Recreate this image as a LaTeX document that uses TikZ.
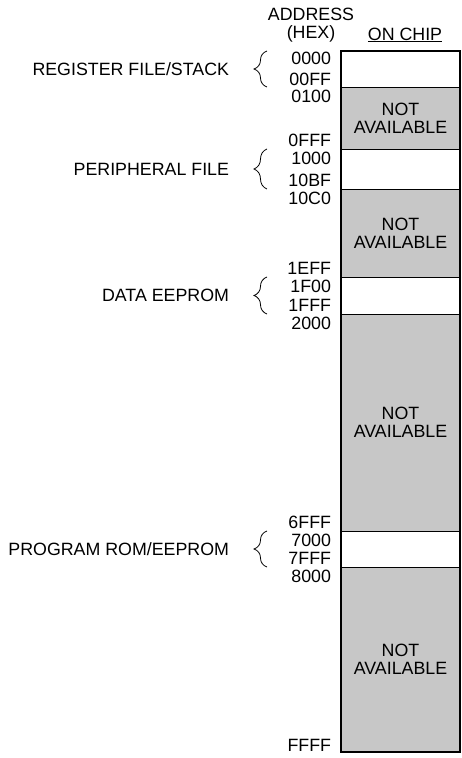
\documentclass[tikz,border=0pt]{standalone}
\usepackage{fontspec}
\setmainfont{Liberation Sans}
\usetikzlibrary{positioning,decorations.pathreplacing,calc}

\begin{document}
\begin{tikzpicture}[
  x=1pt, y=1pt,
  every node/.style={font=\fontsize{17.8}{18}\selectfont, inner sep=0pt, outer sep=0pt},
  seg/.style={rectangle, draw, line width=0.9pt, minimum width=119pt},
  onchip/.style={seg},
  nav/.style={seg, fill=black!22, align=center},
  addr/.style={anchor=east},
  blbl/.style={anchor=east},
  brc/.style={decorate, decoration={brace, amplitude=13pt}, line width=0.8pt},
]
  \useasboundingbox (0,0) rectangle (462,758);

  % Header
  \node[align=center] (addrhd) at (311,733) {ADDRESS\\(HEX)};
  \node (chiphd) at (405,723) {\underline{ON CHIP}};

  % Memory segments
  \node[onchip, minimum height=36pt] (reg) at (400.5,689) {};
  \node[nav, below=0pt of reg, minimum height=62pt] (na1) {NOT\\AVAILABLE};
  \node[onchip, below=0pt of na1, minimum height=40pt] (per) {};
  \node[nav, below=0pt of per, minimum height=88pt] (na2) {NOT\\AVAILABLE};
  \node[onchip, below=0pt of na2, minimum height=37pt] (dat) {};
  \node[nav, below=0pt of dat, minimum height=217pt] (na3) {NOT\\AVAILABLE};
  \node[onchip, below=0pt of na3, minimum height=36pt] (prog) {};
  \node[nav, below=0pt of prog, minimum height=185pt] (na4) {NOT\\AVAILABLE};
  \draw[line width=1.3pt] (reg.north west) rectangle (na4.south east);

  % Addresses
  \node[addr] (a0000) at ([shift={(-10,-7)}]reg.north west) {0000};
  \node[addr] (a00FF) at ([shift={(-10,8)}]reg.south west) {00FF};
  \node[addr] (a0100) at ([shift={(-10,-9.5)}]na1.north west) {0100};
  \node[addr] (a0FFF) at ([shift={(-10,8.5)}]na1.south west) {0FFF};
  \node[addr] (a1000) at ([shift={(-10,-9.5)}]per.north west) {1000};
  \node[addr] (a10BF) at ([shift={(-10,8.5)}]per.south west) {10BF};
  \node[addr] (a10C0) at ([shift={(-10,-9.5)}]na2.north west) {10C0};
  \node[addr] (a1EFF) at ([shift={(-10,8.5)}]na2.south west) {1EFF};
  \node[addr] (a1F00) at ([shift={(-10,-9.5)}]dat.north west) {1F00};
  \node[addr] (a1FFF) at ([shift={(-10,8.5)}]dat.south west) {1FFF};
  \node[addr] (a2000) at ([shift={(-10,-9.5)}]na3.north west) {2000};
  \node[addr] (a6FFF) at ([shift={(-10,8.5)}]na3.south west) {6FFF};
  \node[addr] (a7000) at ([shift={(-10,-9.5)}]prog.north west) {7000};
  \node[addr] (a7FFF) at ([shift={(-10,8.5)}]prog.south west) {7FFF};
  \node[addr] (a8000) at ([shift={(-10,-9.5)}]na4.north west) {8000};
  \node[addr] (aFFFF) at ([shift={(-10,7)}]na4.south west) {FFFF};

  % Braces and their labels
  \draw[brc] ([xshift=-74pt]reg.south west) -- ([xshift=-74pt]reg.north west);
  \draw[brc] ([xshift=-74pt]per.south west) -- ([xshift=-74pt]per.north west);
  \draw[brc] ([xshift=-74pt]dat.south west) -- ([xshift=-74pt]dat.north west);
  \draw[brc] ([xshift=-74pt]prog.south west) -- ([xshift=-74pt]prog.north west);
  \node[blbl] (lreg) at ([xshift=-112pt]reg.west) {REGISTER FILE/STACK};
  \node[blbl] (lper) at ([xshift=-112pt]per.west) {PERIPHERAL FILE};
  \node[blbl] (ldat) at ([xshift=-112pt]dat.west) {DATA EEPROM};
  \node[blbl] (lprog) at ([xshift=-112pt]prog.west) {PROGRAM ROM/EEPROM};
\end{tikzpicture}
\end{document}
